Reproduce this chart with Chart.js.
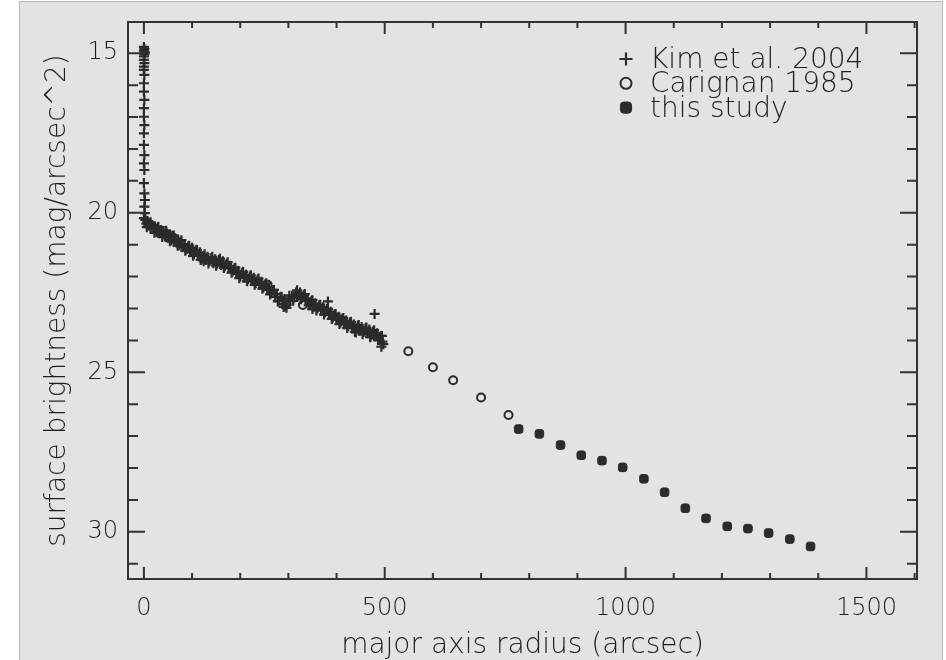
<!DOCTYPE html>
<html>
<head>
<meta charset="utf-8">
<script src="https://cdn.jsdelivr.net/npm/chart.js@4/dist/chart.umd.min.js"></script>
<style>
    html, body { margin: 0; padding: 0; background: #fff; overflow: hidden; }
    #frame { position: absolute; left: 19px; top: 1px; width: 922px; height: 700px; background: #e3e3e3; border: 1px solid #b8b8b8; }
    #wrap { position: absolute; left: 0; top: 0; width: 946px; height: 660px; }
</style>
</head>
<body>
<div id="frame"></div>
<div id="wrap"><canvas id="profile" width="946" height="660"></canvas></div>
<script>
// Kim et al. 2004 (crosses): central spike, then the dense inner profile
var kimR = [
    0, 1, 0, 2, 1, 0, 0, 1, 0, 0,
    1, 0, 0, 1, 0, 0, 1, 0, 0, 1,
    0, 1, 0, 1, 2, 1, 2, 0,
    3, 5, 7, 9, 11, 14, 17, 20, 23, 26,
    29, 32, 35, 38, 41, 44, 47, 50, 53, 56,
    59, 62, 65, 68, 71, 74, 77, 80, 84, 88,
    92, 96, 100, 104, 108, 112, 116, 120, 124, 128,
    132, 136, 140, 144, 148, 152, 156, 160, 164, 168,
    172, 176, 180, 184, 188, 192, 196, 200, 204, 208,
    212, 216, 220, 224, 228, 232, 236, 240, 244, 248,
    252, 256, 260, 264, 268, 272, 276, 280, 284, 288,
    292, 296, 300, 304, 308, 312, 316, 320, 324, 328,
    332, 336, 340, 344, 348, 352, 356, 360, 364, 368,
    372, 376, 380, 384, 388, 392, 396, 400, 404, 408,
    412, 416, 420, 424, 428, 432, 436, 440, 444, 448,
    452, 456, 460, 464, 468, 472, 476, 480, 484, 488,
    492, 495, 497,
    6, 14, 22, 30, 38, 46, 54, 62, 70, 78,
    86, 94, 102, 110, 118, 126, 134, 142, 150, 158,
    166, 174, 182, 190, 198, 206, 214, 222, 230, 238,
    246, 254, 262, 270, 278, 286, 294, 302, 310, 318,
    326, 334, 342, 350, 358, 366, 374, 382, 390, 398,
    406, 414, 422, 430, 438, 446, 454, 462, 470, 478,
    486, 494,
    382, 479, 493, 124, 290, 296, 350, 440, 470
];
var kimMag = [
    14.80, 14.86, 14.92, 14.97, 15.03, 15.10, 15.21, 15.31, 15.42, 15.52,
    15.68, 15.94, 16.20, 16.46, 16.72, 16.99, 17.25, 17.51, 17.87, 18.19,
    18.45, 18.66, 19.07, 19.39, 19.60, 19.81, 20.01, 20.17,
    20.22, 20.34, 20.26, 20.40, 20.33, 20.46, 20.38, 20.52, 20.44, 20.60,
    20.48, 20.64, 20.54, 20.70, 20.57, 20.74, 20.62, 20.78, 20.68, 20.86,
    20.72, 20.90, 20.80, 20.94, 20.85, 21.02, 20.90, 21.08, 20.98, 21.14,
    21.06, 21.24, 21.10, 21.30, 21.18, 21.34, 21.24, 21.44, 21.36, 21.48,
    21.38, 21.52, 21.42, 21.58, 21.46, 21.60, 21.48, 21.64, 21.52, 21.68,
    21.60, 21.74, 21.66, 21.84, 21.74, 21.92, 21.82, 22.00, 21.88, 22.04,
    21.94, 22.08, 22.00, 22.14, 22.04, 22.20, 22.10, 22.26, 22.16, 22.34,
    22.24, 22.42, 22.34, 22.52, 22.44, 22.64, 22.54, 22.76, 22.64, 22.86,
    22.70, 22.88, 22.70, 22.76, 22.60, 22.66, 22.50, 22.60, 22.50, 22.66,
    22.58, 22.76, 22.68, 22.86, 22.76, 22.94, 22.84, 23.00, 22.90, 23.06,
    22.96, 23.12, 23.02, 23.20, 23.10, 23.28, 23.18, 23.36, 23.26, 23.44,
    23.32, 23.50, 23.38, 23.56, 23.44, 23.62, 23.50, 23.66, 23.54, 23.70,
    23.58, 23.74, 23.62, 23.78, 23.66, 23.82, 23.72, 23.88, 23.78, 23.94,
    23.86, 24.04, 24.12,
    20.45, 20.30, 20.63, 20.44, 20.76, 20.56, 20.89, 20.71, 21.03, 20.86,
    21.19, 21.03, 21.35, 21.16, 21.48, 21.30, 21.59, 21.38, 21.66, 21.44,
    21.73, 21.55, 21.88, 21.72, 22.05, 21.85, 22.15, 21.96, 22.26, 22.06,
    22.38, 22.21, 22.56, 22.42, 22.78, 22.63, 22.93, 22.60, 22.76, 22.43,
    22.71, 22.55, 22.90, 22.74, 23.06, 22.88, 23.19, 23.01, 23.33, 23.17,
    23.49, 23.30, 23.61, 23.42, 23.73, 23.52, 23.81, 23.60, 23.89, 23.68,
    23.99, 23.86,
    22.78, 23.17, 24.20, 21.52, 22.95, 22.98, 23.02, 23.75, 23.90
];

// Carignan 1985 (open circles)
var carR = [257, 330, 410, 479, 549, 600, 642, 700, 757];
var carMag = [22.26, 22.89, 23.36, 23.83, 24.34, 24.84, 25.25, 25.79, 26.34];

// this study (filled)
var ourR = [778, 821, 865, 908, 951, 994, 1038, 1081, 1124, 1167, 1211, 1254, 1297, 1341, 1384];
var ourMag = [26.78, 26.93, 27.28, 27.60, 27.77, 27.98, 28.34, 28.76, 29.26, 29.58, 29.83, 29.90, 30.04, 30.23, 30.46];

var xTicks = [0, 500, 1000, 1500];
var yTicks = [15, 20, 25, 30];
var xMinorStep = 100;
var yMinorStep = 1;

var INK = '#2b2b2b';
var AXIS = '#333333';
var TEXT = '#1e1e1e';
var FONT = "'DejaVu Sans', sans-serif";

function pairs(xs, ys) {
    return xs.map(function (v, i) { return { x: v, y: ys[i] }; });
}

// IDL style box: top/right lines plus inward ticks on all four sides
var idlFrame = {
    id: 'idlFrame',
    afterDraw: function (chart) {
        var c = chart.ctx, a = chart.chartArea;
        var sx = chart.scales.x, sy = chart.scales.y;
        c.save();
        c.strokeStyle = AXIS;
        c.lineWidth = 2;
        c.beginPath();
        c.moveTo(a.left, a.top);
        c.lineTo(a.right, a.top);
        c.lineTo(a.right, a.bottom);
        var v, p, len;
        for (v = 0; v <= sx.max; v += xMinorStep) {
            p = sx.getPixelForValue(v);
            len = xTicks.indexOf(v) >= 0 ? 12 : 6;
            c.moveTo(p, a.bottom); c.lineTo(p, a.bottom - len);
            c.moveTo(p, a.top); c.lineTo(p, a.top + len);
        }
        for (v = Math.ceil(sy.min); v <= sy.max; v += yMinorStep) {
            p = sy.getPixelForValue(v);
            len = yTicks.indexOf(v) >= 0 ? 17 : 10;
            c.moveTo(a.left, p); c.lineTo(a.left + len, p);
            c.moveTo(a.right, p); c.lineTo(a.right - len, p);
        }
        c.stroke();
        c.restore();
    }
};

var idlLegend = {
    id: 'idlLegend',
    afterDatasetsDraw: function (chart) {
        var c = chart.ctx;
        c.save();
        c.font = '300 28px ' + FONT;
        c.textBaseline = 'alphabetic';
        chart.data.datasets.forEach(function (ds, i) {
            var by = 68 + i * 24.3;
            c.strokeStyle = ds.borderColor;
            c.fillStyle = ds.backgroundColor;
            c.lineWidth = ds.borderWidth;
            Chart.helpers.drawPoint(c, {
                pointStyle: ds.pointStyle,
                radius: ds.pointRadius + 1.5,
                borderWidth: ds.borderWidth,
                rotation: 0
            }, 626, by - 9);
            c.fillStyle = TEXT;
            c.fillText(ds.label, 650, by);
        });
        c.restore();
    }
};

function plainLabel(v) { return String(v); }

var ctx = document.getElementById('profile').getContext('2d');
var profileChart = new Chart(ctx, {
    type: 'scatter',
    data: {
        datasets: [{
            label: 'Kim et al. 2004',
            data: pairs(kimR, kimMag),
            pointStyle: 'cross',
            pointRadius: 5,
            borderWidth: 2.2,
            borderColor: INK,
            backgroundColor: INK
        }, {
            label: 'Carignan 1985',
            data: pairs(carR, carMag),
            pointStyle: 'circle',
            pointRadius: 4,
            borderWidth: 2,
            borderColor: INK,
            backgroundColor: 'rgba(0,0,0,0)'
        }, {
            label: 'this study',
            data: pairs(ourR, ourMag),
            pointStyle: 'rectRounded',
            pointRadius: 5,
            borderWidth: 1,
            borderColor: INK,
            backgroundColor: INK
        }]
    },
    options: {
        responsive: false,
        animation: false,
        layout: { padding: { left: 0, top: 22, right: 29, bottom: 0 } },
        plugins: {
            legend: { display: false },
            tooltip: { enabled: false }
        },
        scales: {
            x: {
                type: 'linear',
                min: -33,
                max: 1605,
                afterBuildTicks: function (s) { s.ticks = xTicks.map(function (v) { return { value: v }; }); },
                afterFit: function (s) { s.height = 81; },
                grid: { display: false, drawTicks: false },
                border: { color: AXIS, width: 2 },
                ticks: { padding: 18, color: TEXT, callback: plainLabel, font: { family: FONT, size: 24, weight: 300, lineHeight: 1 } },
                title: {
                    display: true,
                    text: 'major axis radius (arcsec)',
                    color: TEXT,
                    padding: { top: 0, bottom: 0 },
                    font: { family: FONT, size: 28, weight: 300, lineHeight: 1 }
                }
            },
            y: {
                type: 'linear',
                reverse: true,
                min: 14.02,
                max: 31.48,
                afterBuildTicks: function (s) { s.ticks = yTicks.map(function (v) { return { value: v }; }); },
                afterFit: function (s) { s.width = 128; },
                grid: { display: false, drawTicks: false },
                border: { color: AXIS, width: 2 },
                ticks: { padding: 10, color: TEXT, callback: plainLabel, font: { family: FONT, size: 24, weight: 300, lineHeight: 1 } },
                title: {
                    display: true,
                    text: 'surface brightness (mag/arcsec^2)',
                    color: TEXT,
                    padding: { top: 44, bottom: 0 },
                    font: { family: FONT, size: 28, weight: 300, lineHeight: 1 }
                }
            }
        }
    },
    plugins: [idlFrame, idlLegend]
});
</script>
</body>
</html>
